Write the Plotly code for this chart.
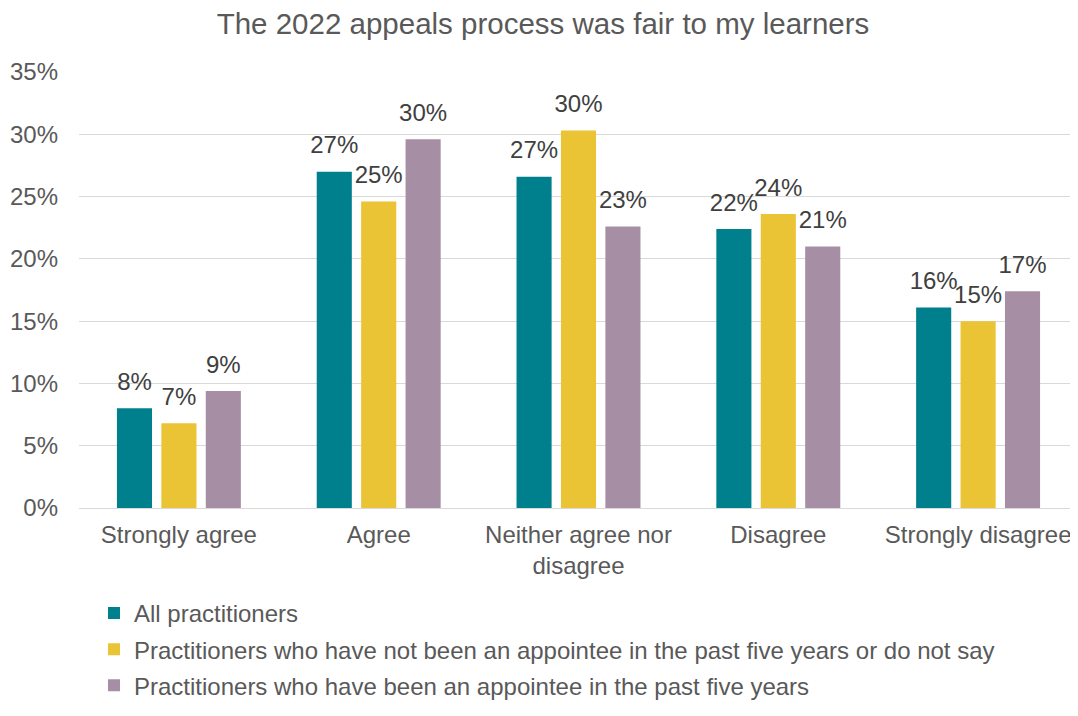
import plotly.graph_objects as go

categories = ["Strongly agree", "Agree", "Neither agree nor<br>disagree", "Disagree", "Strongly disagree"]
series_names = [
    "All practitioners",
    "Practitioners who have not been an appointee in the past five years or do not say",
    "Practitioners who have been an appointee in the past five years",
]
all_practitioners = [8.0, 27.0, 26.6, 22.4, 16.1]
not_appointee = [6.8, 24.6, 30.3, 23.6, 15.0]
appointee = [9.4, 29.6, 22.6, 21.0, 17.4]
colors = ["#007F8C", "#EAC435", "#A68FA5"]
tick_vals = [0, 5, 10, 15, 20, 25, 30, 35]
tick_text = [f"{v}%" for v in tick_vals]

FONT = "Liberation Sans, Arial"
BARGAP = 0.333

fig = go.Figure()
all_series = [all_practitioners, not_appointee, appointee]
for i, (name, vals) in enumerate(zip(series_names, all_series)):
    fig.add_trace(go.Bar(
        x=categories, y=vals, name=name,
        marker=dict(color=colors[i], line=dict(width=0)),
        offsetgroup=f"g{i}", legendgroup=f"g{i}",
        hovertemplate="%{y:.0f}%<extra>" + name + "</extra>",
    ))
for i, (name, vals) in enumerate(zip(series_names, all_series)):
    fig.add_trace(go.Scatter(
        x=categories, y=vals, mode="markers+text",
        text=[f"{v:.0f}%" for v in vals], textposition="top center",
        textfont=dict(size=24, color="#404040", family=FONT),
        marker=dict(size=18, color="rgba(0,0,0,0)"),
        offsetgroup=f"g{i}", showlegend=False, hoverinfo="skip",
        cliponaxis=False,
    ))

fig.update_layout(
    width=1070, height=700,
    paper_bgcolor="white", plot_bgcolor="white",
    font=dict(family=FONT, color="#595959"),
    title=dict(text="The 2022 appeals process was fair to my learners",
               x=0.5, xanchor="center", y=0.977, yanchor="middle",
               font=dict(size=29.5, color="#595959", family=FONT)),
    margin=dict(l=71, r=0, t=64, b=200),
    barmode="group", bargap=BARGAP, bargroupgap=0.21,
    scattermode="group", scattergap=BARGAP,
    xaxis=dict(tickfont=dict(size=24, color="#595959"), showline=True,
               linecolor="#D9D9D9", linewidth=1, ticks="", automargin=False,
               ticklabelstandoff=5),
    yaxis=dict(range=[0, 35], tickvals=tick_vals, ticktext=tick_text,
               tickfont=dict(size=24, color="#595959"), showgrid=True,
               gridcolor="#D9D9D9", gridwidth=1, zeroline=False, ticks="",
               automargin=False, ticklabelstandoff=20),
    legend=dict(orientation="v", x=0.015, xanchor="left", y=-0.190, yanchor="top",
                font=dict(size=24, color="#595959"), traceorder="grouped",
                tracegroupgap=2, itemwidth=30),
)
fig.write_html("out.html")
